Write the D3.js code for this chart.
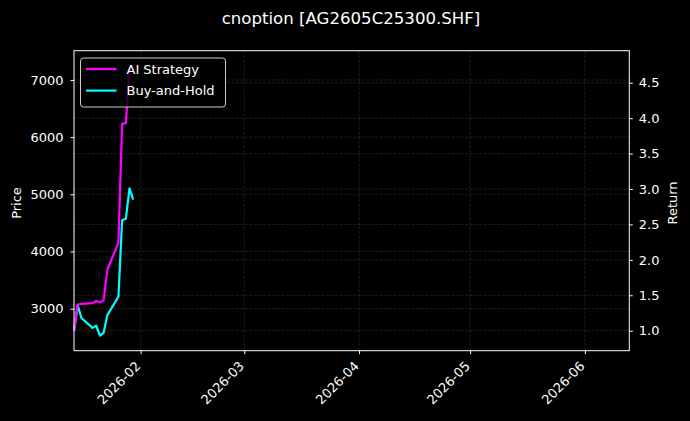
<!DOCTYPE html>
<html>
<head>
<meta charset="utf-8">
<script src="https://cdn.jsdelivr.net/npm/d3@7"></script>
<style>
  body { margin: 0; background: #000; }
  svg { display: block; font-family: "DejaVu Sans", sans-serif; }
  .axis line { stroke: #fff; }
  .grid line { stroke: #fff; stroke-opacity: 0.2; stroke-dasharray: 3,1.5; stroke-width: 0.6; }
</style>
</head>
<body>
<div id="plot"></div>
<script>
// series (daily closes, return relative to first day)
var dates      = ["2026-01-14", "2026-01-15", "2026-01-16", "2026-01-19", "2026-01-20", "2026-01-21",
                  "2026-01-22", "2026-01-23", "2026-01-26", "2026-01-27", "2026-01-28", "2026-01-29", "2026-01-30"];
var aiReturn   = [1.00, 1.37, 1.38, 1.39, 1.42, 1.40, 1.43, 1.86, 2.24, 3.92, 3.93, 4.70, 4.70];
var bhReturn   = [1.00, 1.36, 1.18, 1.04, 1.07, 0.93, 0.97, 1.22, 1.48, 2.56, 2.58, 3.01, 2.85];
var priceTicks = [3000, 4000, 5000, 6000, 7000];
var retTicks   = [1.0, 1.5, 2.0, 2.5, 3.0, 3.5, 4.0, 4.5];
var monthTicks = ["2026-02-01", "2026-03-01", "2026-04-01", "2026-05-01", "2026-06-01"];
var xRange     = ["2026-01-14", "2026-06-13"];

var W = 690, H = 421;
var margin = {top: 50.7, right: 60.7, bottom: 70.3, left: 74};
var width  = W - margin.left - margin.right;
var height = H - margin.top - margin.bottom;

var parse = d3.timeParse("%Y-%m-%d");

var x_scale = d3.scaleTime().domain(xRange.map(parse)).range([0, width]);
var y_price = d3.scaleLinear().domain([2265, 7512]).range([height, 0]);
var y_ret   = d3.scaleLinear().domain([0.718, 4.952]).range([height, 0]);

var svg = d3.select("#plot").append("svg")
    .attr("width", W)
    .attr("height", H);

svg.append("rect").attr("width", W).attr("height", H).attr("fill", "#000");

var g = svg.append("g")
    .attr("transform", "translate(" + margin.left + "," + margin.top + ")");

// grids (x, left y, right y)
var grid = g.append("g").attr("class", "grid");
grid.selectAll(".gx").data(monthTicks.map(parse)).enter().append("line")
    .attr("x1", function (d) { return x_scale(d); })
    .attr("x2", function (d) { return x_scale(d); })
    .attr("y1", 0).attr("y2", height);
grid.selectAll(".gp").data(priceTicks).enter().append("line")
    .attr("x1", 0).attr("x2", width)
    .attr("y1", function (d) { return y_price(d); })
    .attr("y2", function (d) { return y_price(d); });
grid.selectAll(".gr").data(retTicks).enter().append("line")
    .attr("x1", 0).attr("x2", width)
    .attr("y1", function (d) { return y_ret(d); })
    .attr("y2", function (d) { return y_ret(d); });

var line = function (vals) {
  return d3.line()
    .x(function (d, i) { return x_scale(parse(dates[i])); })
    .y(function (d) { return y_ret(d); })(vals);
};

g.append("path").attr("d", line(bhReturn))
    .attr("fill", "none").attr("stroke", "#00ffff").attr("stroke-width", 2.2)
    .attr("stroke-linejoin", "round");
g.append("path").attr("d", line(aiReturn))
    .attr("fill", "none").attr("stroke", "#ff00ff").attr("stroke-width", 2.2)
    .attr("stroke-linejoin", "round");

// frame
g.append("rect").attr("width", width).attr("height", height)
    .attr("fill", "none").attr("stroke", "#fff").attr("stroke-width", 1);

function styleAxis(ax) {
  ax.select(".domain").remove();
  ax.selectAll("text").attr("fill", "#fff")
    .style("font-size", "13px")
    .style("font-family", "'DejaVu Sans', sans-serif");
}

// axes
var xAxis = g.append("g").attr("class", "axis")
    .attr("transform", "translate(0," + height + ")")
    .call(d3.axisBottom(x_scale).tickValues(monthTicks.map(parse))
          .tickFormat(d3.timeFormat("%Y-%m")).tickSize(3.5).tickPadding(3));
styleAxis(xAxis);
xAxis.selectAll("text")
    .attr("text-anchor", "end")
    .attr("dy", null)
    .attr("x", 0).attr("y", 0)
    .attr("transform", "translate(-3,13) rotate(-45)")
    .attr("dominant-baseline", "central");

var yl = g.append("g").attr("class", "axis")
    .call(d3.axisLeft(y_price).tickValues(priceTicks).tickFormat(d3.format("d")).tickSize(3.5).tickPadding(7));
styleAxis(yl);

var yr = g.append("g").attr("class", "axis")
    .attr("transform", "translate(" + width + ",0)")
    .call(d3.axisRight(y_ret).tickValues(retTicks).tickFormat(d3.format(".1f")).tickSize(3.5).tickPadding(6));
styleAxis(yr);

// labels
svg.append("text").attr("x", W / 2 + 6).attr("y", 24)
    .attr("text-anchor", "middle").attr("fill", "#fff").style("font-size", "16.6px")
    .text("cnoption [AG2605C25300.SHF]");
svg.append("text").attr("transform", "translate(21,203) rotate(-90)")
    .attr("text-anchor", "middle").attr("fill", "#fff").style("font-size", "13px")
    .text("Price");
svg.append("text").attr("transform", "translate(677,203) rotate(-90)")
    .attr("text-anchor", "middle").attr("fill", "#fff").style("font-size", "13px")
    .text("Return");

// legend
var lg = svg.append("g").attr("transform", "translate(80.5,58)");
lg.append("rect").attr("width", 145).attr("height", 49).attr("rx", 3)
    .attr("fill", "#000").attr("fill-opacity", 0.8)
    .attr("stroke", "#ccc").attr("stroke-width", 1);
var items = [{name: "AI Strategy", color: "#ff00ff"}, {name: "Buy-and-Hold", color: "#00ffff"}];
items.forEach(function (it, i) {
  var yy = 11 + i * 21.6;
  lg.append("line").attr("x1", 5.5).attr("x2", 36).attr("y1", yy).attr("y2", yy)
      .attr("stroke", it.color).attr("stroke-width", 2.2);
  lg.append("text").attr("x", 46).attr("y", yy + 4.6)
      .attr("fill", "#fff").style("font-size", "13px").text(it.name);
});
</script>
</body>
</html>
